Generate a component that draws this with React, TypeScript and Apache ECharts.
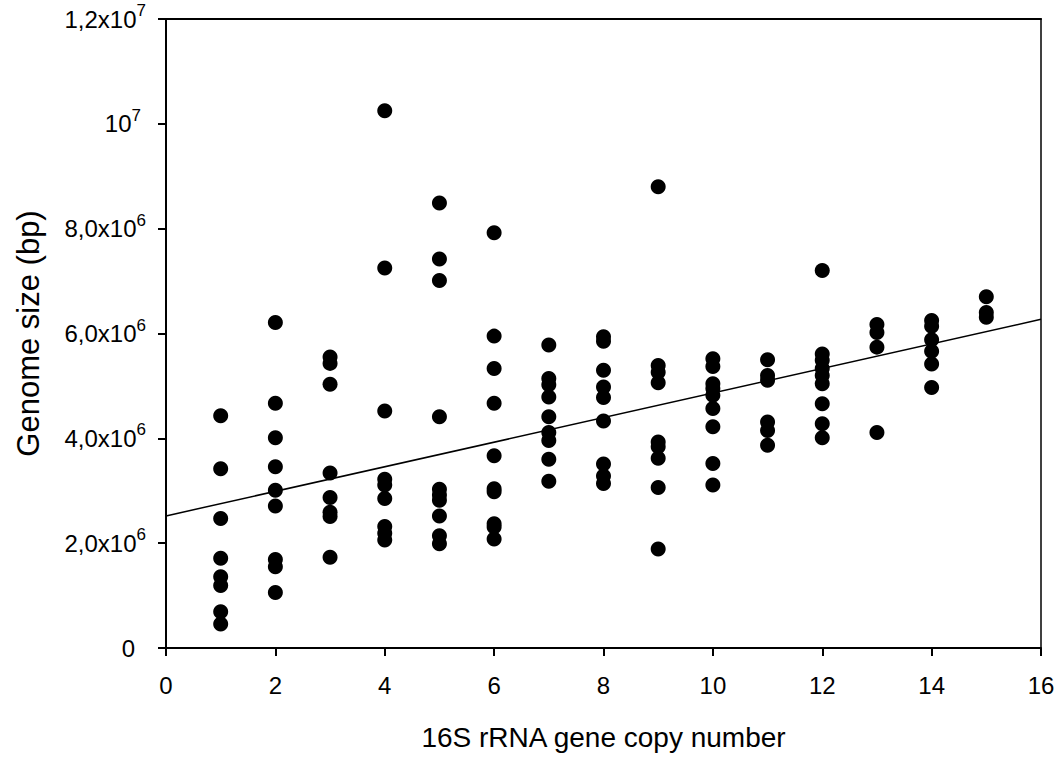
import React, { useEffect, useRef } from "react";
import * as echarts from "echarts";

// 16S rRNA gene copy number (x) and genome sizes in millions of bp (y) for each copy number
const copyNumbers = [1, 2, 3, 4, 5, 6, 7, 8, 9, 10, 11, 12, 13, 14, 15];
const genomeSizesMbp: number[][] = [
  [4.43, 3.42, 2.47, 1.71, 1.36, 1.19, 0.69, 0.46],
  [6.21, 4.67, 4.01, 3.46, 3.01, 2.71, 1.69, 1.55, 1.06],
  [5.55, 5.43, 5.03, 3.34, 2.87, 2.59, 2.51, 1.73],
  [10.25, 7.25, 4.52, 3.22, 3.11, 2.85, 2.32, 2.19, 2.06],
  [8.49, 7.42, 7.01, 4.41, 3.03, 2.92, 2.82, 2.52, 2.14, 1.99],
  [7.92, 5.95, 5.33, 4.67, 3.67, 3.04, 2.98, 2.37, 2.31, 2.08],
  [5.78, 5.14, 5.02, 4.79, 4.41, 4.11, 3.96, 3.6, 3.18],
  [5.94, 5.85, 5.3, 4.98, 4.78, 4.33, 3.51, 3.28, 3.14],
  [8.8, 5.39, 5.26, 5.06, 3.93, 3.84, 3.62, 3.06, 1.89],
  [5.52, 5.37, 5.04, 4.95, 4.82, 4.57, 4.22, 3.52, 3.11],
  [5.5, 5.2, 5.11, 4.31, 4.15, 3.87],
  [7.2, 5.61, 5.49, 5.33, 5.2, 5.04, 4.66, 4.28, 4.01],
  [6.17, 6.02, 5.74, 4.11],
  [6.25, 6.14, 5.88, 5.66, 5.42, 4.97],
  [6.7, 6.4, 6.31],
];

// Linear regression line end points
const fitX = [0, 16];
const fitY = [2.52e6, 6.27e6];

// Y tick labels: mantissa text and exponent
const yTickValues = [0, 2e6, 4e6, 6e6, 8e6, 1e7, 1.2e7];
const yTickBase = ["0", "2,0x10", "4,0x10", "6,0x10", "8,0x10", "10", "1,2x10"];
const yTickExp = ["", "6", "6", "6", "6", "7", "7"];

const xTitle = "16S rRNA gene copy number";
const yTitle = "Genome size (bp)";

export default function App() {
  const ref = useRef<HTMLDivElement>(null);

  useEffect(() => {
    if (!ref.current) return;
    const chart = echarts.init(ref.current, undefined, { renderer: "svg" });

    const points: number[][] = [];
    copyNumbers.forEach((c, i) => {
      genomeSizesMbp[i].forEach((v) => points.push([c, v * 1e6]));
    });
    const fitData = fitX.map((x, i) => [x, fitY[i]]);

    const font = "'Liberation Sans', Arial, sans-serif";
    const black = "#000";
    const baseStyle = {
      color: black,
      fontSize: 24,
      fontFamily: font,
      lineHeight: 34,
      verticalAlign: "middle",
    };
    const supStyle = {
      color: black,
      fontSize: 17,
      fontFamily: font,
      lineHeight: 17,
      verticalAlign: "top",
    };

    chart.setOption({
      animation: false,
      backgroundColor: "#fff",
      grid: { left: 166, right: 17, top: 19, bottom: 109, containLabel: false },
      xAxis: [
        {
          type: "value",
          min: 0,
          max: 16,
          interval: 2,
          position: "bottom",
          name: xTitle,
          nameLocation: "middle",
          nameGap: 75,
          nameTextStyle: { color: black, fontSize: 28, fontFamily: font },
          axisLine: { show: true, onZero: false, lineStyle: { color: black, width: 2 } },
          axisTick: { show: true, inside: false, length: 8, lineStyle: { color: black, width: 2 } },
          axisLabel: { color: black, fontSize: 24, fontFamily: font, margin: 25 },
          splitLine: { show: false },
        },
        {
          type: "value",
          min: 0,
          max: 16,
          position: "top",
          axisLine: { show: true, onZero: false, lineStyle: { color: black, width: 2 } },
          axisTick: { show: false },
          axisLabel: { show: false },
          splitLine: { show: false },
        },
      ],
      yAxis: [
        {
          type: "value",
          min: 0,
          max: 1.2e7,
          interval: 2e6,
          position: "left",
          name: yTitle,
          nameLocation: "middle",
          nameGap: 122,
          nameTextStyle: { color: black, fontSize: 31, fontFamily: font },
          axisLine: { show: true, onZero: false, lineStyle: { color: black, width: 2 } },
          axisTick: { show: true, inside: false, length: 8, lineStyle: { color: black, width: 2 } },
          axisLabel: {
            margin: 20,
            formatter: (val: number) => {
              const i = yTickValues.findIndex((t) => Math.abs(t - val) < 1);
              if (i < 0) return "";
              if (!yTickExp[i]) return `{z|${yTickBase[i]}}`;
              if (yTickBase[i] === "10") return `{b|${yTickBase[i]}}{s7|${yTickExp[i]}}`;
              return `{b|${yTickBase[i]}}{s|${yTickExp[i]}}`;
            },
            rich: {
              b: baseStyle,
              z: { ...baseStyle, padding: [0, 11, 0, 0] },
              s: supStyle,
              s7: { ...supStyle, padding: [0, 5, 0, 0] },
            },
          },
          splitLine: { show: false },
        },
        {
          type: "value",
          min: 0,
          max: 1.2e7,
          position: "right",
          axisLine: { show: true, onZero: false, lineStyle: { color: black, width: 1.5 } },
          axisTick: { show: false },
          axisLabel: { show: false },
          splitLine: { show: false },
        },
      ],
      series: [
        {
          type: "scatter",
          xAxisIndex: 0,
          yAxisIndex: 0,
          data: points,
          symbol: "circle",
          symbolSize: 15,
          itemStyle: { color: black, opacity: 1 },
          z: 3,
        },
        {
          type: "line",
          xAxisIndex: 0,
          yAxisIndex: 0,
          data: fitData,
          symbol: "none",
          lineStyle: { color: black, width: 1.5 },
          z: 2,
        },
      ],
    });

    return () => chart.dispose();
  }, []);

  return (
    <div
      ref={ref}
      style={{ position: "fixed", left: 0, top: 0, width: 1058, height: 757, background: "#fff" }}
    />
  );
}
